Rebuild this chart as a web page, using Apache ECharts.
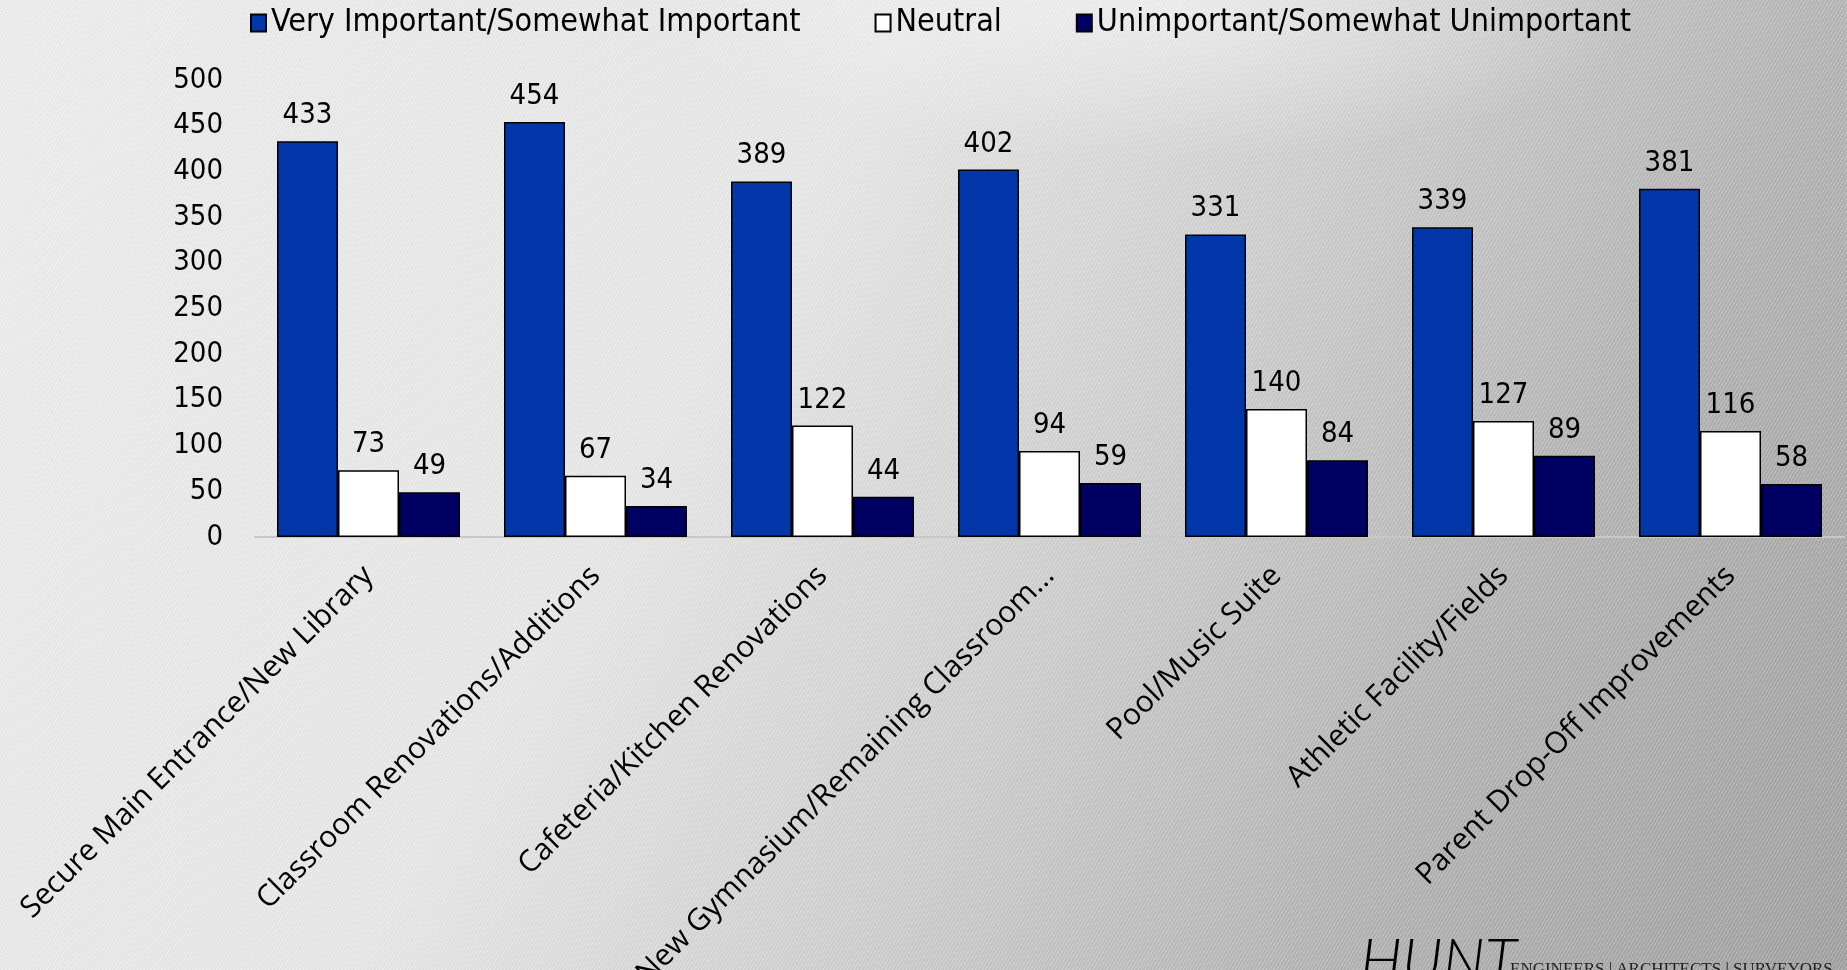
<!DOCTYPE html>
<html>
<head>
<meta charset="utf-8">
<title>Bar Chart</title>
<script src="https://cdn.jsdelivr.net/npm/echarts@6/dist/echarts.min.js"></script>
<style>
  html, body {
    margin: 0;
    padding: 0;
  }
  body {
    width: 1847px;
    height: 970px;
    overflow: hidden;
    background:
      repeating-linear-gradient(120deg, rgba(255,255,255,0.18) 0px, rgba(255,255,255,0.18) 1px, rgba(0,0,0,0.025) 1px, rgba(0,0,0,0.025) 3px),
      radial-gradient(ellipse 500px 160px at 1150px 0px, rgba(255,255,255,0.55), rgba(255,255,255,0)),
      linear-gradient(120deg, #eeeeee 0%, #e8e8e8 38%, #d0d0d0 58%, #b4b4b4 78%, #a2a2a2 100%);
  }
  #main {
    width: 1847px;
    height: 970px;
  }
</style>
</head>
<body>
<div id="main"></div>
<script>
  let categories = [
    'Secure Main Entrance/New Library',
    'Classroom Renovations/Additions',
    'Cafeteria/Kitchen Renovations',
    'New Gymnasium/Remaining Classroom...',
    'Pool/Music Suite',
    'Athletic Facility/Fields',
    'Parent Drop-Off Improvements'
  ]
  let seriesNames = ['Very Important/Somewhat Important', 'Neutral', 'Unimportant/Somewhat Unimportant']
  let importantData = [433, 454, 389, 402, 331, 339, 381]
  let neutralData = [73, 67, 122, 94, 140, 127, 116]
  let unimportantData = [49, 34, 44, 59, 84, 89, 58]
  let yTicks = [0, 50, 100, 150, 200, 250, 300, 350, 400, 450, 500]

  const narrowFont = "'DejaVu Sans Condensed', 'Liberation Sans Narrow', sans-serif"
  const color = ['#0336A8', '#FFFFFF', '#000063']
  const seriesData = [importantData, neutralData, unimportantData]

  let chart = echarts.init(document.getElementById('main'))
  const series_value = []
  for (let i = 0; i < seriesData.length; i++) {
    series_value.push({
      name: seriesNames[i],
      type: 'bar',
      data: seriesData[i],
      barWidth: 61,
      barGap: '0%',
      itemStyle: {
        color: color[i],
        borderColor: '#000',
        borderWidth: 1.5
      },
      label: {
        show: true,
        position: 'top',
        distance: 11,
        color: '#000',
        fontFamily: narrowFont,
        fontSize: 29
      }
    })
  }

  const optionData = {
    animation: false,
    legend: {
      top: 2,
      left: 245,
      icon: 'rect',
      itemWidth: 15,
      itemHeight: 17,
      itemGap: 74,
      textStyle: {
        color: '#000',
        fontFamily: narrowFont,
        fontSize: 32
      },
      data: seriesNames
    },
    grid: {
      left: 255,
      right: 3,
      top: 80,
      bottom: 433,
      containLabel: false,
      outerBoundsMode: 'none'
    },
    xAxis: [{
      type: 'category',
      data: categories,
      axisLabel: {
        rotate: 45,
        interval: 0,
        margin: 34,
        color: '#000',
        fontFamily: "'Open Sans', 'Noto Sans', sans-serif",
        fontSize: 30
      },
      axisLine: {
        lineStyle: {
          color: '#c8c8c8',
          width: 2
        }
      },
      axisTick: {
        show: false
      }
    }],
    yAxis: [{
      type: 'value',
      min: yTicks[0],
      max: yTicks[yTicks.length - 1],
      interval: 50,
      axisLabel: {
        color: '#000',
        margin: 32,
        fontFamily: narrowFont,
        fontSize: 29
      },
      axisLine: {
        show: false
      },
      axisTick: {
        show: false
      },
      splitLine: {
        show: false
      }
    }],
    graphic: [{
      type: 'text',
      left: 1360,
      top: 932,
      style: {
        text: 'HUNT',
        fill: '#000',
        font: 'italic 300 60px Lato, "Liberation Sans", sans-serif'
      }
    }, {
      type: 'text',
      left: 1510,
      top: 961,
      style: {
        text: 'ENGINEERS | ARCHITECTS | SURVEYORS',
        fill: '#222',
        font: '17px "Liberation Serif", serif'
      }
    }],
    series: series_value
  }

  chart.setOption(optionData)
  window.addEventListener('resize', function() {
    chart.resize()
  })
</script>
</body>
</html>
